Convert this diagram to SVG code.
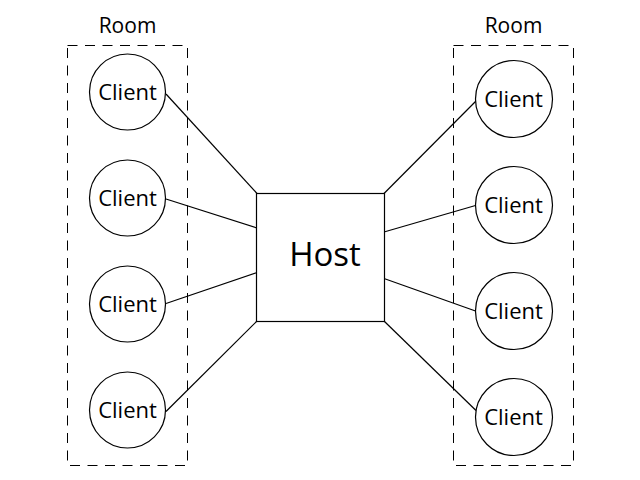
<svg xmlns="http://www.w3.org/2000/svg" width="640" height="480" viewBox="0 0 640 480">
<style>
.room{fill:none;stroke:#000;stroke-width:1;stroke-dasharray:10 7.5}
.node{fill:#fff;stroke:#000;stroke-width:1.2}
.t{font-family:"Open Sans","Noto Sans",sans-serif;font-size:22px;fill:#000;text-anchor:middle}
.r{font-family:"Open Sans","Noto Sans",sans-serif;font-size:21px;fill:#000;text-anchor:middle}
.h{font-family:"Open Sans","Noto Sans",sans-serif;font-size:33px;fill:#000;text-anchor:middle}
.c{stroke:#000;stroke-width:1.2;fill:none}
</style>
<rect width="640" height="480" fill="#fff"/>
<g id="room-left">
<rect class="room" x="67.5" y="45.5" width="120" height="420"/>
<text class="r" x="127.5" y="33">Room</text>
</g>
<g id="room-right">
<rect class="room" x="453.5" y="45.5" width="120" height="420"/>
<text class="r" x="513.5" y="33">Room</text>
</g>
<g id="connectors">
<line class="c" x1="166" y1="94" x2="257" y2="193.5"/>
<line class="c" x1="166" y1="199" x2="257" y2="228"/>
<line class="c" x1="166" y1="303.5" x2="257" y2="272.5"/>
<line class="c" x1="166" y1="411.5" x2="257" y2="321"/>
<line class="c" x1="384" y1="193.5" x2="476" y2="101"/>
<line class="c" x1="384" y1="232" x2="475.5" y2="205.5"/>
<line class="c" x1="384" y1="278.5" x2="475.5" y2="311"/>
<line class="c" x1="384" y1="321" x2="476" y2="410.5"/>
</g>
<g id="host">
<rect class="node" x="256.5" y="193.5" width="128" height="128"/>
<text class="h" x="325" y="266">Host</text>
</g>
<g id="client-l1"><circle class="node" cx="127.5" cy="92" r="38"/><text class="t" x="127.5" y="100">Client</text></g>
<g id="client-l2"><circle class="node" cx="127.5" cy="198" r="38"/><text class="t" x="127.5" y="206">Client</text></g>
<g id="client-l3"><circle class="node" cx="127.5" cy="304" r="38"/><text class="t" x="127.5" y="312">Client</text></g>
<g id="client-l4"><circle class="node" cx="127.5" cy="410" r="38"/><text class="t" x="127.5" y="418">Client</text></g>
<g id="client-r1"><circle class="node" cx="514" cy="99" r="38.5"/><text class="t" x="513.5" y="107">Client</text></g>
<g id="client-r2"><circle class="node" cx="514" cy="205" r="38.5"/><text class="t" x="513.5" y="213">Client</text></g>
<g id="client-r3"><circle class="node" cx="514" cy="311" r="38.5"/><text class="t" x="513.5" y="319">Client</text></g>
<g id="client-r4"><circle class="node" cx="514" cy="417" r="38.5"/><text class="t" x="513.5" y="425">Client</text></g>
</svg>
